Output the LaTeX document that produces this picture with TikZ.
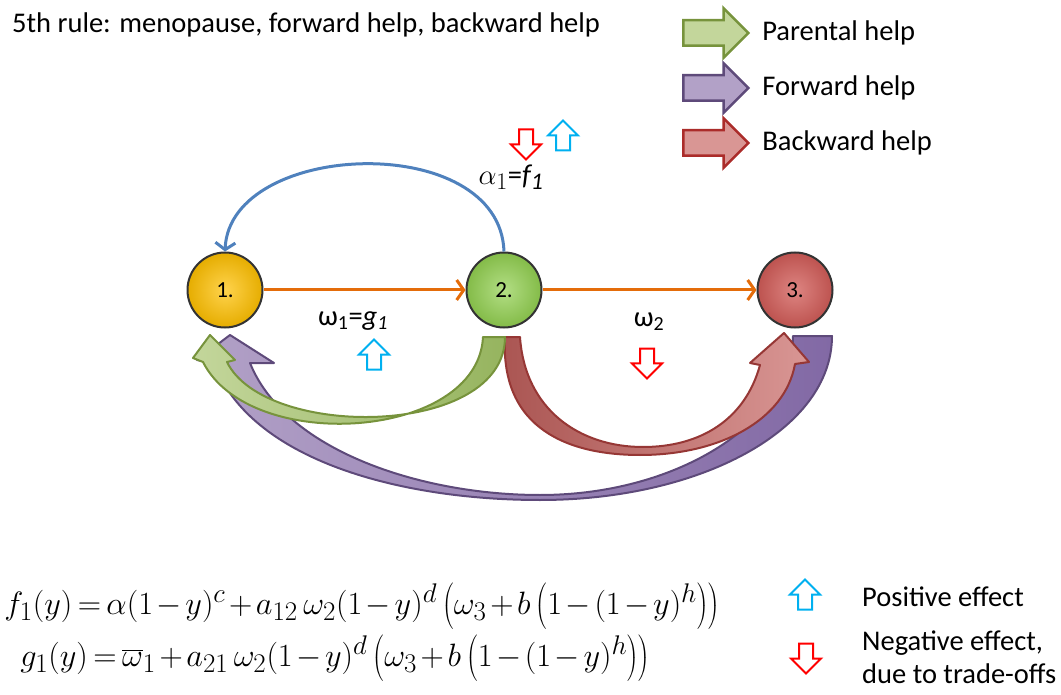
\documentclass[tikz,border=0pt]{standalone}
\usepackage{fontspec}
\setmainfont{Carlito}
\usepackage{tikz}
\usetikzlibrary{arrows.meta,positioning,shapes.arrows}
\definecolor{flowor}{RGB}{228,108,10}
\definecolor{loopbl}{RGB}{79,129,189}
\definecolor{posbl}{RGB}{0,176,240}
\definecolor{negrd}{RGB}{255,0,0}
\definecolor{parfill}{RGB}{195,214,155}
\definecolor{pardark}{RGB}{150,180,95}
\definecolor{parline}{RGB}{119,147,60}
\definecolor{fwdfill}{RGB}{178,161,199}
\definecolor{fwddark}{RGB}{130,105,165}
\definecolor{fwdline}{RGB}{94,74,122}
\definecolor{bwdfill}{RGB}{217,150,148}
\definecolor{bwddark}{RGB}{170,85,82}
\definecolor{bwdline}{RGB}{150,55,53}
\definecolor{stone}{RGB}{255,192,0}
\definecolor{stonetwo}{RGB}{146,208,80}
\definecolor{stonethree}{RGB}{210,92,88}
\newcommand{\bigpar}{\rule[-6pt]{0pt}{24pt}}
\newcommand{\tightmath}{\medmuskip=2mu\thickmuskip=3mu}

\begin{document}
\begin{tikzpicture}[x=1pt,y=-1pt,font=\fontsize{28.5}{33}\selectfont,
  stage/.style={circle,draw=black!80,line width=2pt,minimum size=75pt,inner sep=0pt,
                font=\fontsize{23}{26}\selectfont},
  flow/.style={draw=flowor,line width=3pt,-{Straight Barb[length=7pt,width=20pt]}},
  legarr/.style={single arrow,minimum height=65pt,minimum width=47pt,
                 single arrow head extend=12pt,inner xsep=0pt,inner ysep=11.5pt,line width=2.5pt},
  effarr/.style={single arrow,minimum height=30pt,minimum width=28pt,
                 single arrow head extend=8pt,inner xsep=0pt,inner ysep=6pt,line width=2pt,fill=white},
  legtxt/.style={inner sep=0pt,anchor=west,align=left},
  formula/.style={anchor=west,inner sep=0pt,scale=1.3,transform shape,
                  font=\fontsize{24.88}{30}\selectfont\tightmath},
  band/.style={line width=2pt,line join=round}]
\useasboundingbox (0,0) rectangle (1061,695);

% title
\node[anchor=west,inner sep=0pt] (title) at (12,25) {5th rule: menopause, forward help, backward help};

% legend of the help arrows
\node[legarr,draw=parline,fill=parfill] (legpar) at (709.5,33) {};
\node[legarr,draw=fwdline,fill=fwdfill] (legfwd) at (709.5,88) {};
\node[legarr,draw=bwdline!80!red,fill=bwdfill] (legbwd) at (709.5,143) {};
\node[legtxt,right=12pt of legpar] {Parental help};
\node[legtxt,right=12pt of legfwd] {Forward help};
\node[legtxt,right=12pt of legbwd] {Backward help};

% big curved help arrows
\draw[band,draw=fwdline,left color=fwdfill,right color=fwddark]
  (832,336) .. controls (832,430) and (700,500) .. (540,500)
  .. controls (400,500) and (250,460) .. (214,363)
  -- (197,360) -- (230,335) -- (274,363) -- (250,363)
  .. controls (285,450) and (420,495) .. (540,495)
  .. controls (680,495) and (793,420) .. (793,336) -- cycle;
\draw[band,draw=bwdline,left color=bwddark,right color=bwdfill]
  (505,337) .. controls (500,430) and (570,455) .. (640,455)
  .. controls (720,455) and (785,420) .. (795,364)
  -- (809,362) -- (784,333) -- (750,363) -- (760,365)
  .. controls (745,420) and (700,447) .. (643,447)
  .. controls (580,447) and (525,410) .. (520,337) -- cycle;
\draw[band,draw=parline,left color=parfill,right color=pardark]
  (483,337) .. controls (478,440) and (250,455) .. (203,362)
  -- (193,358) -- (210,335) -- (235,360) -- (227,362)
  .. controls (265,440) and (505,438) .. (505,337) -- cycle;

% stages
\node[stage,inner color=stone!70!white,outer color=stone!90!black] (n1) at (225,290) {1.};
\node[stage,inner color=stonetwo!70!white,outer color=stonetwo!90!black] (n2) at (504,290) {2.};
\node[stage,inner color=stonethree!75!white,outer color=stonethree!90!black] (n3) at (795,290) {3.};

\draw[flow] (n1) -- (n2);
\draw[flow] (n2) -- (n3);
\draw[draw=loopbl,line width=3pt,-{Straight Barb[length=7pt,width=20pt]}]
  (n2.north) .. controls (500,130) and (230,140) .. (n1.north);

% labels and effects
\node[scale=1.15,transform shape,font=\fontsize{24.88}{30}\selectfont] (lalpha) at (511,177)
  {\(\alpha_1\)=\textit{f\textsubscript{1}}};
\node (lomone) at (353,321) {ω\textsubscript{1}=\textit{g\textsubscript{1}}};
\node (lomtwo) at (649,322) {ω\textsubscript{2}};
\node[effarr,draw=negrd,rotate=-90] (dnalpha) at (526,141) {};
\node[effarr,draw=posbl,rotate=90] (upalpha) at (563,139) {};
\node[effarr,draw=posbl,rotate=90] (upone) at (374,358) {};
\node[effarr,draw=negrd,rotate=-90] (dntwo) at (647,360) {};

% formulas
\node[formula] (ff) at (4,606)
  {$f_1(y)=\alpha(1-y)^c+a_{12}\,\omega_2(1-y)^d\left(\bigpar\omega_3+b\left(\bigpar1-(1-y)^h\right)\right)$};
\node[formula] (fg) at (20,658)
  {$g_1(y)=\overline{\omega}_1+a_{21}\,\omega_2(1-y)^d\left(\bigpar\omega_3+b\left(\bigpar1-(1-y)^h\right)\right)$};

% effect legend
\node[effarr,draw=posbl,rotate=90] (legpos) at (805,598) {};
\node[effarr,draw=negrd,rotate=-90] (legneg) at (806,655) {};
\node[legtxt] (tpos) at (862,597) {Positive effect};
\node[legtxt] (tneg) at (862,657) {Negative effect,\\due to trade-offs};
\end{tikzpicture}
\end{document}
